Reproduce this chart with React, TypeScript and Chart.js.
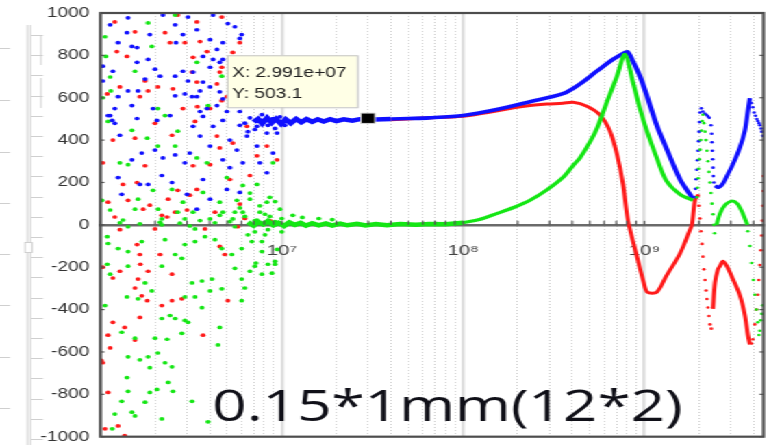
import React, { useEffect, useRef } from 'react';
import { Chart, registerables } from 'chart.js';

Chart.register(...registerables);

// ---------- data (x in MHz, y in value units) ----------
const MHZ = 1e6;
const X_MIN = 1e6;
const X_MAX = 4.54e9;
const Y_MIN = -1000;
const Y_MAX = 1000;
const Y_STEP = 200;
const X_TICK_VALUES = [1e7, 1e8, 1e9];
const X_TICK_LABELS = ['10⁷', '10⁸', '10⁹'];
const CURSOR = [2.991e7, 503.1];
const CURSOR_LABELS = ['X: 2.991e+07', 'Y: 503.1'];
const TITLE = '0.15*1mm(12*2)';

const blueNoise: [number, number][] = [
  [1.13, 944], [1.42, 977], [1.40, 907], [1.87, 898], [1.25, 860], [1.49, 842], [1.59, 837], [1.83, 781],
  [1.59, 767], [2.00, 735], [1.17, 725], [1.03, 679], [1.76, 688], [2.13, 702], [2.58, 702], [2.85, 725],
  [3.04, 679], [1.42, 632], [1.61, 632], [1.25, 605], [2.58, 609], [2.92, 618], [3.20, 605], [1.95, 549],
  [1.49, 563], [1.20, 549], [2.42, 516], [2.58, 944], [2.85, 898], [2.21, 990], [3.04, 981], [2.61, 860],
  [4.18, 990], [5.51, 935], [6.01, 898], [3.40, 921], [4.02, 874], [4.73, 860], [4.39, 828], [3.68, 795],
  [4.18, 781], [4.73, 781], [4.02, 744], [4.55, 767], [3.24, 721], [3.68, 674], [4.02, 651], [3.54, 632],
  [4.55, 628], [4.73, 595], [4.39, 563], [3.40, 605], [3.87, 549], [4.98, 535], [5.87, 535], [3.54, 535],
  [1.13, 516], [1.59, 502], [1.20, 479], [2.05, 493], [1.28, 423], [1.69, 339], [2.21, 316], [1.49, 307],
  [2.00, 353], [1.25, 223], [1.83, 191], [2.18, 233], [1.31, 144], [1.65, 191], [2.58, 330], [2.92, 293],
  [2.48, 200], [3.00, 144], [1.16, 493], [3.68, 512], [4.73, 493], [3.24, 465], [4.18, 465], [5.87, 470],
  [7.30, 465], [8.94, 502], [10.1, 479], [3.54, 419], [5.17, 400], [6.42, 419], [8.28, 433], [4.02, 372],
  [7.30, 372], [5.65, 353], [8.94, 339], [3.11, 339], [4.73, 307], [6.09, 293], [7.57, 293], [8.28, 246],
  [5.17, 270], [3.68, 214], [5.87, 153], [3.40, 74], [4.02, 121], [4.98, 167], [9.42, 433], [7.87, 493],
  [6.25, 480], [6.67, 505], [7.11, 450], [7.77, 520], [8.39, 470], [9.18, 455], [9.77, 510], [10.4, 470],
  [6.50, 440], [7.40, 490], [5.04, 950], [5.87, 880], [1.03, 749], [1.10, 516],
];

const redNoise: [number, number][] = [
  [1.20, 958], [1.55, 911], [1.23, 818], [2.27, 907], [2.42, 860], [2.92, 860], [1.76, 679], [1.83, 632],
  [1.40, 795], [1.09, 618], [2.07, 651], [2.85, 549], [1.65, 605], [2.67, 990], [1.28, 651], [2.51, 642],
  [3.20, 721], [4.67, 981], [3.40, 958], [5.87, 860], [3.54, 865], [5.37, 814], [3.87, 818], [4.67, 744],
  [4.55, 721], [4.39, 665], [3.40, 674], [3.24, 791], [4.67, 586], [4.02, 549], [4.98, 605], [3.42, 558],
  [1.55, 409], [1.17, 400], [1.03, 293], [1.76, 279], [1.33, 191], [1.59, 200], [1.10, 107], [1.20, 37],
  [1.42, 116], [1.87, 93], [2.33, 37], [2.67, 163], [3.00, 70], [2.36, 121], [2.00, 479], [2.48, 423],
  [1.72, 74], [3.32, 488], [4.39, 419], [5.37, 386], [4.55, 363], [7.30, 326], [3.24, 279], [4.02, 284],
  [6.67, 233], [3.40, 167], [5.17, 214], [5.87, 98], [4.28, 60], [3.11, 140], [8.28, 372], [6.42, 465],
  [9.42, 307], [1.28, -23], [1.59, -93], [1.65, -140], [2.13, -140], [1.66, -186], [1.83, -219], [1.28, -219],
  [1.17, -251], [1.61, -256], [2.48, -233], [1.55, -298], [1.69, -335], [1.81, -358], [2.48, -358], [2.81, -349],
  [2.18, -381], [1.65, -437], [1.17, -460], [1.36, -484], [1.10, -521], [1.55, -544], [3.68, -521], [1.13, -581],
  [1.03, -651], [1.10, -791], [1.25, -949], [1.06, -963], [1.36, -995], [4.55, -102], [4.85, -140], [5.72, -9],
  [5.04, -358], [3.77, -19], [2.00, -19], [1.03, -200], [1.01, -640], [2.18, 45], [2.58, 60], [6.25, 30],
  [8.60, 20],
];

const greenNoise: [number, number][] = [
  [1.83, 953], [1.06, 888], [1.92, 842], [1.55, 725], [1.13, 698], [1.14, 632], [2.58, 990], [1.03, 600],
  [2.07, 549], [1.07, 795], [2.27, 516], [3.40, 767], [4.67, 702], [3.92, 563], [1.49, 446], [1.10, 488],
  [2.67, 442], [1.81, 409], [2.07, 372], [1.42, 284], [2.58, 372], [1.28, 293], [1.02, 116], [1.61, 121],
  [1.95, 163], [2.08, 74], [1.13, 70], [2.48, 167], [2.85, 107], [2.67, 60], [1.55, 74], [1.33, 23],
  [2.18, 28], [2.92, 28], [3.40, 316], [3.87, 293], [4.98, 223], [6.09, 186], [7.30, 191], [8.94, 293],
  [3.68, 153], [4.55, 107], [5.65, 116], [6.67, 121], [8.60, 130], [4.73, 60], [6.09, 60], [7.57, 60],
  [9.77, 74], [4.02, 28], [5.37, 28], [7.30, 23], [8.28, 107], [3.24, 60], [1.28, 10], [1.65, 5],
  [2.13, 12], [2.74, 8], [3.54, 20], [4.55, 45], [5.87, 80], [7.57, 90], [8.60, 40], [6.67, 150],
  [5.51, 60], [9.18, 110], [5.17, 15], [6.25, 40], [7.11, 20], [8.08, 50], [9.18, 15], [10.0, 30],
  [4.28, 10], [3.11, -5], [11.5, 45], [13.0, 35], [16.0, 30], [19.0, 25],
  [1.09, -56], [1.10, -88], [1.25, -112], [1.42, -126], [1.69, -79], [2.27, -70], [2.58, -140], [2.92, -93],
  [3.32, -79], [3.77, -56], [4.28, -70], [4.67, -112], [5.30, -140], [6.01, -112], [6.84, -79], [7.77, -126],
  [9.18, -172], [6.50, -47], [8.08, -47], [1.09, -186], [1.13, -233], [1.42, -195], [1.76, -274], [1.92, -312],
  [2.18, -195], [2.81, -158], [3.20, -274], [3.63, -265], [4.12, -256], [4.67, -302], [5.51, -205], [6.01, -256],
  [7.11, -195], [8.83, -228], [6.01, -358], [1.40, -340], [1.61, -349], [2.92, -340], [3.32, -340], [4.02, -312],
  [3.63, -391], [2.42, -428], [2.58, -442], [2.18, -442], [2.92, -451], [3.04, -460], [4.55, -484], [1.31, -507],
  [1.55, -535], [2.00, -535], [2.33, -540], [2.81, -512], [4.45, -567], [1.42, -623], [1.83, -623], [2.07, -605],
  [2.27, -651], [1.65, -637], [1.87, -674], [2.48, -670], [1.06, -381], [2.36, -744], [2.51, -786], [1.42, -786],
  [1.87, -791], [2.05, -777], [3.20, -833], [1.76, -837], [1.31, -833], [1.20, -893], [1.49, -884], [1.55, -902],
  [1.16, -963], [3.92, -930], [1.40, -721], [2.18, -916], [1.42, -9], [2.18, 0], [3.32, -19], [5.51, -9],
  [7.11, -33], [8.39, -23], [10.0, -33], [7.77, -79], [9.42, -116], [8.39, -186], [7.20, -180], [9.18, -186],
  [6.67, -219], [7.77, -233], [6.25, -298],
];

const blueBand: [number, number][] = [
  [7, 485], [7.4, 500], [7.8, 478], [8.3, 505], [8.8, 482], [9.3, 500], [9.9, 476], [10.5, 498], [11.2, 480],
  [12, 500], [12.8, 484], [13.7, 499], [14.7, 486], [15.8, 498], [17, 488], [18.5, 499], [20, 490], [22, 498],
  [24.5, 492], [27, 499], [29.9, 503], [33, 497], [40, 500],
];
const blueCurve: [number, number][] = [
  [40, 500], [50, 502], [65, 505], [100, 516],
  [153, 544], [234, 581], [355, 619], [441, 665], [548, 726], [671, 781], [782, 814], [810, 816], [865, 772],
  [945, 702], [1033, 609], [1170, 470], [1320, 363], [1572, 215], [1852, 124],
];
const blueSpikeDots: [number, number][] = [
  [1901, 130], [1915, 170], [1930, 215], [1945, 260], [1960, 305], [1975, 350], [1990, 395], [2005, 440],
  [2015, 485], [2026, 530], [2060, 550], [2104, 535], [2150, 525], [2200, 520], [2243, 512], [2280, 505],
  [2330, 470], [2350, 430], [2360, 390], [2370, 350], [2380, 310], [2390, 270], [2400, 230], [2420, 200],
];
const blueArc: [number, number][] = [
  [2451, 185], [2546, 177], [2611, 180], [2712, 195], [2890, 240], [3078, 286], [3364, 365], [3583, 444],
  [3721, 537], [3817, 598],
];
const blueTailDots: [number, number][] = [
  [3890, 575], [3964, 555], [4030, 530], [4100, 515], [4170, 500], [4223, 490], [4290, 480], [4331, 470],
  [4400, 455], [4442, 440], [4500, 420],
];

const redCurve: [number, number][] = [
  [40, 496], [60, 504], [100, 513], [150, 536], [190, 552], [234, 563], [290, 570], [355, 574], [404, 579],
  [482, 560], [569, 519], [646, 442], [706, 333], [762, 193], [812, 20], [910, -149], [992, -272],
  [1040, -318], [1170, -318], [1320, -242], [1572, -135], [1784, -23], [1830, 0], [1901, 116], [1975, 140],
];
const redSpikeDots: [number, number][] = [
  [1975, 140], [2000, 90], [2026, 30], [2050, -30], [2080, -90], [2104, -150], [2130, -210], [2159, -260],
  [2190, -310], [2215, -350], [2243, -390], [2270, -430], [2301, -470], [2340, -490],
];
const redArc: [number, number][] = [
  [2390, -397], [2451, -272], [2546, -210], [2611, -195], [2712, -172], [2850, -195], [3078, -256],
  [3364, -333], [3583, -426], [3721, -519], [3817, -565],
];
const redTailDots: [number, number][] = [
  [3900, -560], [3964, -540], [4066, -470], [4150, -400], [4223, -330], [4280, -260], [4331, -190],
  [4390, -120], [4442, -50], [4480, 20], [4500, 90], [4520, 160], [4530, 230],
];

const greenBand: [number, number][] = [
  [6.5, 12], [7, -4], [7.4, 14], [7.9, 2], [8.4, 18], [9, -2], [9.6, 10], [10.3, -5], [11, 12], [11.8, 0],
  [12.7, 9], [13.6, -4], [14.7, 8], [16, -2], [17.5, 7], [19, -3], [21, 6], [23, -2], [26, 5], [29, -3],
  [33, 4], [38, -2], [45, 4], [55, 0], [65, 4], [80, 3], [100, 10],
];
const greenCurve: [number, number][] = [
  [100, 10], [123, 25],
  [153, 53], [190, 82], [234, 116], [290, 165], [355, 223], [404, 280], [441, 316], [500, 390], [548, 456],
  [622, 581], [706, 702], [782, 805], [865, 674], [945, 549], [1033, 442], [1170, 316], [1320, 209],
  [1572, 144], [1852, 116],
];
const greenSpikeDots: [number, number][] = [
  [1950, 130], [1965, 175], [1980, 220], [1995, 265], [2010, 310], [2030, 355], [2045, 400], [2065, 445],
  [2085, 490], [2104, 520], [2130, 480], [2159, 440], [2185, 400], [2215, 350], [2243, 300], [2270, 250],
  [2301, 200], [2330, 150], [2360, 100], [2390, 50], [2420, 0], [2440, -40],
];
const greenArc: [number, number][] = [
  [2500, 0], [2611, 53], [2782, 93], [3040, 112], [3250, 100], [3450, 63], [3700, 0],
];
const greenTailDots: [number, number][] = [
  [3721, -30], [3817, -100], [3900, -180], [3990, -260], [4066, -330], [4150, -400], [4223, -460],
  [4290, -520], [4331, -500], [4380, -450], [4442, -420], [4500, -380],
];

// ---------- layout / style ----------
const CANVAS_W = 571;
const CANVAS_H = 445;
const STRETCH = 782 / CANVAS_W;
const PLOT_LEFT = 100.5 / STRETCH;
const PLOT_RIGHT = 763.5 / STRETCH;
const BLUE = '#1010ff';
const RED = '#ff1a1a';
const GREEN = '#14e614';

const pts = (arr: [number, number][]) => arr.map(([f, v]) => ({ x: f * MHZ, y: v }));
const isDecade = (v: number) => Math.abs(Math.log10(v) - Math.round(Math.log10(v))) < 1e-9;

const scatterDs = (label: string, arr: [number, number][], color: string, order: number, r = 1.85) => ({
  label, data: pts(arr), showLine: false, pointRadius: r, pointBackgroundColor: color,
  pointBorderWidth: 0, borderColor: color, backgroundColor: color, order,
});
const lineDs = (label: string, arr: [number, number][], color: string, width: number, order: number, tension = 0.3) => ({
  label, data: pts(arr), showLine: true, pointRadius: 0, borderColor: color, backgroundColor: color,
  borderWidth: width, tension, fill: false, order,
});

const overlayPlugin = {
  id: 'overlay',
  beforeDraw(chart: any) {
    const ctx = chart.ctx;
    ctx.save();
    ctx.strokeStyle = '#cfcfcf';
    ctx.lineWidth = 1;
    const line = (x1: number, y1: number, x2: number, y2: number) => {
      ctx.beginPath(); ctx.moveTo(x1, y1); ctx.lineTo(x2, y2); ctx.stroke();
    };
    [48, 100, 152, 203, 254, 305, 357, 408].forEach((y) => line(0, y + 0.5, 10 / STRETCH, y + 0.5));
    line(27.5 / STRETCH, 25, 27.5 / STRETCH, 445);
    line(30.5 / STRETCH, 25, 30.5 / STRETCH, 445);
    for (let y = 35; y < 445; y += 20.2) line(31 / STRETCH, Math.round(y) + 0.5, 43 / STRETCH, Math.round(y) + 0.5);
    line(41 / STRETCH, 35, 41 / STRETCH, 65);
    line(41 / STRETCH, 78, 41 / STRETCH, 108);
    ctx.fillStyle = '#fff';
    ctx.fillRect(25 / STRETCH, 242, 7 / STRETCH, 10);
    ctx.strokeRect(25 / STRETCH, 242.5, 7 / STRETCH, 10);
    ctx.restore();
  },
  afterDraw(chart: any) {
    const { ctx, chartArea: ca, scales } = chart;
    const xs = scales.x;
    const ys = scales.y;
    ctx.save();
    const line = (x1: number, y1: number, x2: number, y2: number) => {
      ctx.beginPath(); ctx.moveTo(x1, y1); ctx.lineTo(x2, y2); ctx.stroke();
    };
    ctx.strokeStyle = '#555';
    ctx.lineWidth = 1.2;
    ys.ticks.forEach((t: any) => {
      const py = ys.getPixelForValue(t.value);
      line(ca.left, py, ca.left + 3, py);
      line(ca.right - 3, py, ca.right, py);
    });
    const y0 = ys.getPixelForValue(0);
    xs.ticks.forEach((t: any) => {
      const px = xs.getPixelForValue(t.value);
      line(px, y0 - 4, px, y0);
    });
    ctx.strokeStyle = '#4d4d4d';
    ctx.lineWidth = 2.2;
    ctx.strokeRect(ca.left, ca.top, ca.right - ca.left, ca.bottom - ca.top);
    // data cursor tooltip
    const mx = xs.getPixelForValue(CURSOR[0]);
    const my = ys.getPixelForValue(CURSOR[1]);
    const bx = mx - 103;
    const by = my - 63;
    ctx.fillStyle = '#ffffe6';
    ctx.fillRect(bx, by, 95, 52);
    ctx.strokeStyle = '#c4c4c4';
    ctx.lineWidth = 1;
    ctx.strokeRect(bx + 0.5, by + 0.5, 95, 52);
    ctx.font = '14px "Liberation Sans", Arial, sans-serif';
    ctx.fillStyle = '#202020';
    ctx.textAlign = 'left';
    ctx.textBaseline = 'alphabetic';
    ctx.fillText(CURSOR_LABELS[0], bx + 3.7, my - 41);
    ctx.fillText(CURSOR_LABELS[1], bx + 3.7, my - 20);
    // big annotation
    ctx.font = '44px "Open Sans", sans-serif';
    ctx.fillStyle = '#101018';
    ctx.fillText(TITLE, 155, 421);
    ctx.restore();
  },
};

export default function App() {
  const ref = useRef<HTMLCanvasElement | null>(null);

  useEffect(() => {
    if (!ref.current) return;
    const datasets: any[] = [
      { label: 'cursor', data: [{ x: CURSOR[0], y: CURSOR[1] }], showLine: false, pointStyle: 'rect',
        pointRadius: 7.3, pointBackgroundColor: '#000', pointBorderColor: '#d8d8d8', pointBorderWidth: 1, order: 0 },
      scatterDs('green noise', greenNoise, GREEN, 6),
      scatterDs('blue noise', blueNoise, BLUE, 5),
      scatterDs('red noise', redNoise, RED, 7),
      lineDs('green band', greenBand, GREEN, 4.5, 2, 0),
      lineDs('blue band', blueBand, BLUE, 4.5, 3, 0),
      lineDs('green', greenCurve, GREEN, 3.2, 2),
      lineDs('blue', blueCurve, BLUE, 3.6, 3),
      lineDs('red', redCurve, RED, 3, 4),
      scatterDs('green spike', greenSpikeDots, GREEN, 2, 1.3),
      scatterDs('blue spike', blueSpikeDots, BLUE, 3, 1.3),
      scatterDs('red spike', redSpikeDots, RED, 4, 1.3),
      lineDs('green arc', greenArc, GREEN, 3, 2),
      lineDs('blue arc', blueArc, BLUE, 3.2, 3),
      lineDs('red arc', redArc, RED, 3, 4),
      scatterDs('green tail', greenTailDots, GREEN, 2, 1.3),
      scatterDs('blue tail', blueTailDots, BLUE, 3, 1.3),
      scatterDs('red tail', redTailDots, RED, 4, 1.3),
    ];

    const chart = new Chart(ref.current, {
      type: 'scatter',
      data: { datasets },
      options: {
        responsive: false,
        animation: false,
        events: [],
        layout: { padding: { left: 0, right: CANVAS_W - PLOT_RIGHT, top: 13, bottom: 2 } },
        plugins: { legend: { display: false }, tooltip: { enabled: false } },
        scales: {
          x: {
            type: 'logarithmic',
            min: X_MIN,
            max: X_MAX,
            position: { y: 0 } as any,
            afterBuildTicks: (scale: any) => {
              const t: any[] = [];
              for (let e = 6; e <= 9; e++) {
                for (let m = 1; m <= 9; m++) {
                  const v = m * Math.pow(10, e);
                  if (v <= X_MAX) t.push({ value: v, major: m === 1 });
                }
              }
              scale.ticks = t;
            },
            afterFit: (scale: any) => { scale.paddingLeft = 0; scale.paddingRight = 0; },
            grid: {
              drawTicks: false,
              color: (c: any) => (c.tick && isDecade(c.tick.value) ? '#dedede' : '#cfcfcf'),
              lineWidth: (c: any) => (c.tick && isDecade(c.tick.value) ? 2.4 : 1),
            },
            border: {
              display: true,
              color: '#6a6a6a',
              width: 2.4,
              dash: (c: any) => (c.tick && !isDecade(c.tick.value) ? [1, 2] : []),
            } as any,
            ticks: {
              autoSkip: false,
              maxRotation: 0,
              padding: 17,
              color: '#444',
              font: { family: '"Liberation Sans", Arial, sans-serif', size: 15 },
              callback: (value: any) => {
                const i = X_TICK_VALUES.indexOf(Number(value));
                return i >= 0 ? X_TICK_LABELS[i] : '';
              },
            },
          },
          y: {
            type: 'linear',
            position: 'left',
            min: Y_MIN,
            max: Y_MAX,
            afterFit: (scale: any) => { scale.width = PLOT_LEFT; scale.paddingTop = 0; scale.paddingBottom = 0; },
            grid: { display: false, drawTicks: false },
            border: { display: false },
            ticks: {
              stepSize: Y_STEP,
              padding: 8,
              color: '#333',
              font: { family: '"Liberation Sans", Arial, sans-serif', size: 14 },
              callback: (value: any) => String(value),
            },
          },
        },
      },
      plugins: [overlayPlugin],
    } as any);
    return () => chart.destroy();
  }, []);

  return (
    <div
      style={{
        position: 'absolute', left: 0, top: 0, width: CANVAS_W, height: CANVAS_H,
        transform: `scaleX(${STRETCH})`, transformOrigin: '0 0', background: '#fff',
      }}
    >
      <canvas ref={ref} width={CANVAS_W} height={CANVAS_H} style={{ display: 'block' }} />
    </div>
  );
}
